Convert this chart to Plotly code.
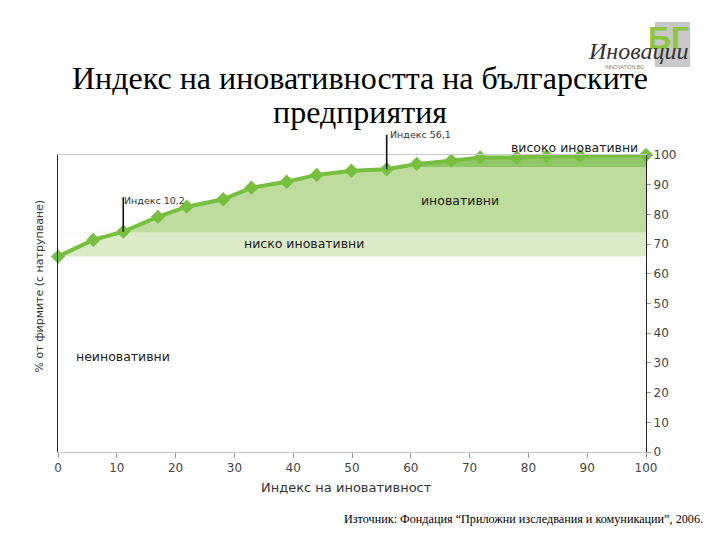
import plotly.graph_objects as go

# ---- data ----
index_vals = [0, 6.0, 11.1, 17.0, 21.9, 28.1, 32.9, 38.9, 44.0, 49.9, 55.9, 61.0, 66.9, 71.8, 78.0, 83.1, 88.8, 100]
pct_firms = [65.8, 71.4, 74.2, 79.2, 82.6, 85.1, 89.0, 91.0, 93.3, 94.7, 95.2, 97.0, 98.1, 99.2, 99.2, 99.6, 99.7, 100]

band_low = 65.8     # start of "ниско иновативни"
band_mid = 74.0     # start of "иновативни"
band_high = 96.0    # start of "високо иновативни"

x_ticks = [0, 10, 20, 30, 40, 50, 60, 70, 80, 90, 100]
y_ticks = [0, 10, 20, 30, 40, 50, 60, 70, 80, 90, 100]

title_lines = ["Индекс на иновативността на българските", "предприятия"]
x_title = "Индекс на иновативност"
y_title = "% от фирмите (с натрупване)"
source_text = "Източник: Фондация “Приложни изследвания и комуникации”, 2006."

band_labels = ["високо иновативни", "иновативни", "ниско иновативни", "неиновативни"]
idx_labels = ["Индекс 10,2", "Индекс 56,1"]

LINE_GREEN = "#79bf3f"
DARK_GREEN = "#8fc766"
MID_GREEN = "#bddc9d"
LIGHT_GREEN = "#dbeac8"
TXT = "#333333"
AX_FONT = "DejaVu Sans"

fig = go.Figure()

def band(lower, color):
    upper = [max(v, lower) for v in pct_firms]
    fig.add_trace(go.Scatter(x=index_vals, y=[lower] * len(index_vals), mode="lines",
                             line=dict(width=0, color=color), hoverinfo="skip", showlegend=False))
    fig.add_trace(go.Scatter(x=index_vals, y=upper, mode="lines", fill="tonexty",
                             fillcolor=color, line=dict(width=0, color=color),
                             hoverinfo="skip", showlegend=False))

band(band_low, LIGHT_GREEN)
band(band_mid, MID_GREEN)
band(band_high, DARK_GREEN)

fig.add_trace(go.Scatter(x=index_vals, y=pct_firms, mode="lines+markers",
                         line=dict(color=LINE_GREEN, width=4),
                         marker=dict(symbol="diamond", size=11, color=LINE_GREEN),
                         cliponaxis=False, showlegend=False))

annotations = []
# leader lines for index markers
for xi, yi, L in [(index_vals[2], pct_firms[2], -36), (index_vals[10], pct_firms[10], -36)]:
    annotations.append(dict(x=xi, y=yi, xref="x", yref="y", ax=0, ay=L, text="",
                            showarrow=True, arrowhead=0, arrowwidth=1.6, arrowcolor="#111111",
                            standoff=0, startstandoff=0))
annotations.append(dict(x=10.9, y=84.6, xref="x", yref="y", text=idx_labels[0], showarrow=False,
                        xanchor="left", yanchor="middle", font=dict(family=AX_FONT, size=9.5, color=TXT)))
annotations.append(dict(x=56.2, y=100, xref="x", yref="y", text=idx_labels[1], showarrow=False,
                        xanchor="left", yanchor="middle", yshift=21,
                        font=dict(family=AX_FONT, size=9.5, color=TXT)))
# band labels
annotations.append(dict(x=87.8, y=100, xref="x", yref="y", text=band_labels[0], showarrow=False,
                        xanchor="center", yanchor="middle", yshift=8,
                        font=dict(family=AX_FONT, size=12.5, color="#222222")))
annotations.append(dict(x=68.4, y=84.8, xref="x", yref="y", text=band_labels[1], showarrow=False,
                        font=dict(family=AX_FONT, size=12.5, color="#222222")))
annotations.append(dict(x=41.8, y=70.1, xref="x", yref="y", text=band_labels[2], showarrow=False,
                        font=dict(family=AX_FONT, size=12.5, color="#222222")))
annotations.append(dict(x=11.0, y=32.3, xref="x", yref="y", text=band_labels[3], showarrow=False,
                        font=dict(family=AX_FONT, size=12.5, color="#222222")))
# axis titles
annotations.append(dict(x=0.49, y=-0.118, xref="paper", yref="paper", text=x_title, showarrow=False,
                        yanchor="middle", font=dict(family=AX_FONT, size=13, color=TXT)))
annotations.append(dict(x=-0.031, y=0.56, xref="paper", yref="paper", text=y_title, showarrow=False,
                        textangle=-90, xanchor="center", yanchor="middle",
                        font=dict(family=AX_FONT, size=11, color=TXT)))
# title (two lines)
annotations.append(dict(x=0.514, y=1.259, xref="paper", yref="paper", text=title_lines[0], showarrow=False,
                        xanchor="center", yanchor="middle",
                        font=dict(family="Liberation Serif", size=32, color="#000000")))
annotations.append(dict(x=0.514, y=1.145, xref="paper", yref="paper", text=title_lines[1], showarrow=False,
                        xanchor="center", yanchor="middle",
                        font=dict(family="Liberation Serif", size=32, color="#000000")))
# source
annotations.append(dict(x=1.10, y=-0.226, xref="paper", yref="paper", text=source_text, showarrow=False,
                        xanchor="right", yanchor="middle",
                        font=dict(family="Liberation Serif", size=12.2, color="#000000")))
# logo
annotations.append(dict(x=1.077, y=1.394, xref="paper", yref="paper", text="<b>БГ</b>", showarrow=False,
                        xanchor="right", yanchor="middle",
                        font=dict(family="Liberation Sans Narrow, Liberation Sans", size=32, color="#8dc63f")))
annotations.append(dict(x=1.076, y=1.35, xref="paper", yref="paper", text="<i>Иновации</i>", showarrow=False,
                        xanchor="right", yanchor="middle",
                        font=dict(family="Liberation Serif", size=24, color="#333333")))
annotations.append(dict(x=1.0, y=1.296, xref="paper", yref="paper", text="INNOVATION.BG", showarrow=False,
                        xanchor="right", yanchor="middle",
                        font=dict(family="Liberation Sans", size=5, color="#777777")))

shapes = [dict(type="rect", xref="paper", yref="paper", x0=1.015, x1=1.075, y0=1.296, y1=1.448,
               fillcolor="#c8c8c8", line=dict(width=0), layer="below")]

fig.update_layout(
    width=712, height=532,
    margin=dict(l=50, r=74, t=147, b=88),
    paper_bgcolor="white", plot_bgcolor="white",
    xaxis=dict(range=[0, 100], tickvals=x_ticks, showgrid=False, zeroline=False,
               showline=True, linecolor="#c8c8c8", linewidth=1, mirror=True,
               ticks="outside", ticklen=5, tickcolor="#999999",
               tickfont=dict(family=AX_FONT, size=12, color="#444444")),
    yaxis=dict(range=[0, 100], tickvals=y_ticks, side="right", showgrid=False, zeroline=False,
               showline=True, linecolor="#222222", linewidth=1.2, mirror=True,
               ticks="outside", ticklen=4, tickcolor="#999999",
               tickfont=dict(family=AX_FONT, size=12, color="#444444")),
    annotations=annotations,
    shapes=shapes,
)

fig.write_html("out.html")
